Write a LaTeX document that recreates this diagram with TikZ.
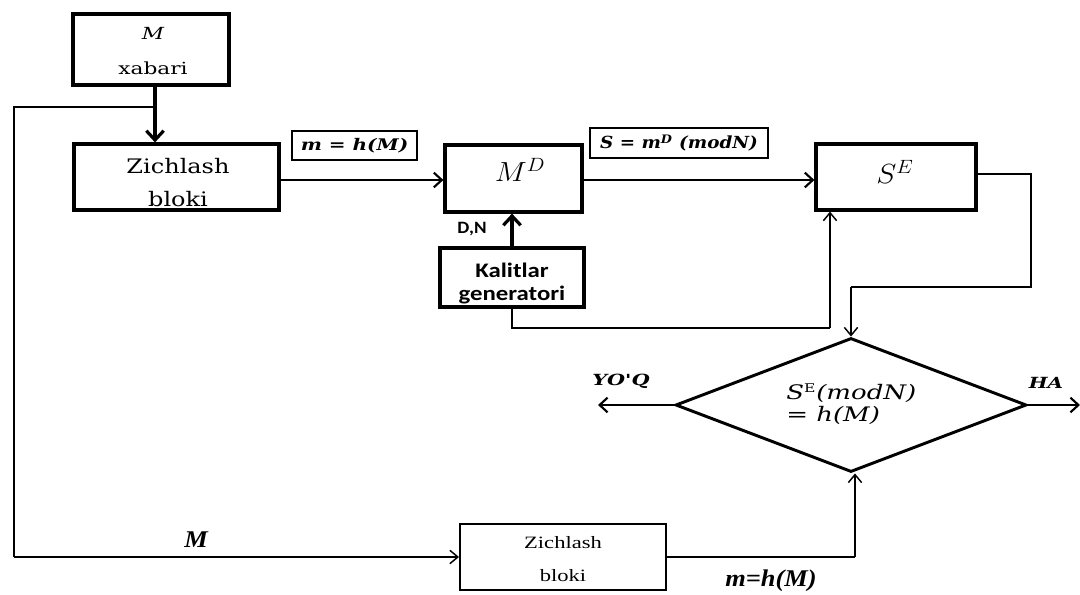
\documentclass[tikz,border=0pt]{standalone}
\usepackage{fontspec}
\usepackage{graphicx}
\setmainfont{Liberation Serif}
\newfontfamily\calib{Carlito}
\newfontfamily\dvs{DejaVu Serif}
\newcommand\wide[2][1.2]{\scalebox{#1}[1]{#2}}
\usetikzlibrary{arrows.meta,shapes.geometric}
\begin{document}
\begin{tikzpicture}[x=0.75pt,y=-0.75pt,
  bigbox/.style={draw,line width=2.4pt,inner sep=0pt},
  labbox/.style={draw,line width=1pt,inner sep=0pt,align=center},
  thinbox/.style={draw,line width=1.5pt,inner sep=0pt},
  conn/.style={line width=1.1pt,-{Straight Barb[length=6pt,width=10pt,line width=1.1pt]}},
  mconn/.style={line width=1.6pt,-{Straight Barb[length=6pt,width=11pt,line width=1.6pt]}},
  bconn/.style={line width=2.4pt,-{Straight Barb[length=7pt,width=13pt,line width=2.4pt]}},
  plain/.style={line width=1.1pt},
  lab/.style={inner sep=0pt},
  boxtxt/.style={inner sep=0pt,align=center}]
\useasboundingbox (0,0) rectangle (1080,595);
% boxes
\node[bigbox,minimum width=117pt,minimum height=53.25pt] (xab) at (151,49.5) {};
\node[boxtxt,font=\dvs\fontsize{12.5}{26}\selectfont] (xabt) at (153,51) {\wide[1.3]{\itshape M}\\ \wide[1.3]{xabari}};
\node[bigbox,minimum width=153.75pt,minimum height=49.5pt] (z1) at (176.5,177) {};
\node[boxtxt,font=\dvs\fontsize{15}{24.75}\selectfont] (z1t) at (178,182.5) {\wide{Zichlash}\\ \wide{bloki}};
\node[labbox,minimum width=93.75pt,minimum height=21.75pt,font=\dvs\bfseries\itshape\fontsize{12}{14}\selectfont] (mlab) at (354.5,145.5)
  {\wide[1.25]{m = h(M)}};
\node[bigbox,minimum width=102.75pt,minimum height=50.25pt] (md) at (513.5,178.5) {};
\node[lab,font=\fontsize{21}{24}\selectfont] (mdt) at (520,170) {\wide[1.1]{$M^{D}$}};
\node[labbox,minimum width=133.5pt,minimum height=22.5pt,font=\dvs\bfseries\itshape\fontsize{12.5}{14}\selectfont] (slab) at (679,143)
  {\wide[1.1]{S = m\textsuperscript{D} (modN)}};
\node[bigbox,minimum width=120pt,minimum height=49.5pt] (se) at (896,177) {};
\node[lab,font=\fontsize{21}{24}\selectfont] (set) at (895,172) {\wide[1.1]{$S^{E}$}};
\node[bigbox,minimum width=108pt,minimum height=44.25pt] (kal) at (512,277.5) {};
\node[boxtxt,font=\calib\bfseries\fontsize{15.5}{17.25}\selectfont] (kalt) at (512,283.5) {\wide{Kalitlar}\\ \wide{generatori}};
\node[draw,line width=2.2pt,diamond,inner sep=0pt,minimum width=263.25pt,minimum height=100.5pt] (dia) at (851,405) {};
\node[lab,anchor=west,align=left,font=\dvs\itshape\fontsize{15}{16.5}\selectfont] (diat) at (786,404)
  {\wide[1.3]{S\textsuperscript{\upshape\small E}(modN)}\\ \wide[1.3]{= h(M)}};
\node[thinbox,minimum width=154.5pt,minimum height=49.5pt] (z2) at (563,557) {};
\node[boxtxt,font=\fontsize{13}{24.75}\selectfont] (z2t) at (563,559.5) {\wide[1.3]{Zichlash}\\ \wide[1.3]{bloki}};
% labels
\node[lab,font=\calib\bfseries\fontsize{13}{14}\selectfont] (dn) at (472,229) {\wide[1.1]{D,N}};
\node[lab,font=\dvs\bfseries\itshape\fontsize{11.5}{13}\selectfont] (yoq) at (621,381) {\wide[1.35]{YO'Q}};
\node[lab,font=\dvs\bfseries\itshape\fontsize{11.5}{13}\selectfont] (ha) at (1046,383) {\wide[1.3]{HA}};
\node[lab,font=\bfseries\itshape\fontsize{18}{20}\selectfont] (mbig) at (196,540) {\wide[1.1]{M}};
\node[lab,font=\bfseries\itshape\fontsize{18}{20}\selectfont] (mh) at (771,581) {\wide[1.1]{m=h(M)}};
% coordinates
\coordinate (j) at (155,107);
\coordinate (c1) at (14,107);
\coordinate (c2) at (14,557);
\coordinate (k1) at (830,328);
\coordinate (r1) at (1031,287);
\coordinate (r2) at (851,287);
\coordinate (ye) at (598,405);
\coordinate (he) at (1080,405);
\coordinate (b1) at (855,557);
% connectors
\draw[bconn] (xab.south -| j) -- (z1.north -| j);
\draw[plain] (j) -- (c1) -- (c2);
\draw[conn] (c2) -- (z2.west);
\draw[mconn] (z1.east |- 0,180) -- (md.west |- 0,180);
\draw[mconn] (md.east |- 0,180) -- (se.west |- 0,180);
\draw[bconn] (kal.north) -- (md.south -| kal.north);
\draw[plain] (kal.south) |- (k1);
\draw[conn] (k1) -- (se.south -| k1);
\draw[plain] (se.east |- 0,174) -| (r1) -- (r2);
\draw[conn] (r2) -- (dia.north);
\draw[mconn] (dia.west) -- (ye);
\draw[mconn] (dia.east) -- (he);
\draw[plain] (z2.east) -- (b1);
\draw[conn] (b1) -- (dia.south -| b1);
\end{tikzpicture}
\end{document}
